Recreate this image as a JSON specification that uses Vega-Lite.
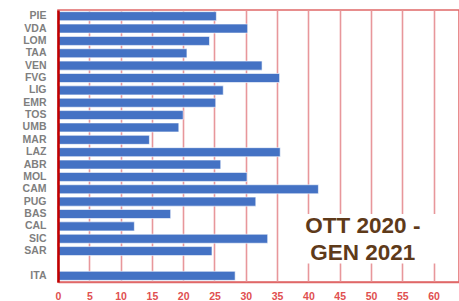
{
  "$schema": "https://vega.github.io/schema/vega-lite/v6.json",
  "width": 401,
  "height": 272,
  "autosize": {"type": "none"},
  "padding": {"left": 58, "top": 10, "right": 0, "bottom": 19},
  "config": {
    "view": {"stroke": "#E06868", "strokeWidth": 1.5},
    "font": "Liberation Sans",
    "axisY": {
      "title": null,
      "ticks": false,
      "grid": false,
      "domainColor": "#C00000",
      "domainWidth": 2.5,
      "labelPadding": 12,
      "labelColor": "#7F7F7F",
      "labelFontWeight": "bold",
      "labelFontSize": 10.5
    },
    "axisX": {
      "title": null,
      "grid": true,
      "gridColor": "#E8979B",
      "gridWidth": 1.6,
      "ticks": false,
      "domainColor": "#E06868",
      "domainWidth": 1.5,
      "labelColor": "#E05050",
      "labelFontWeight": "bold",
      "labelFontSize": 10.5,
      "labelPadding": 9,
      "labelFlush": false,
      "labelOverlap": false
    }
  },
  "layer": [
    {
      "data": {
        "values": [
          {"region": "PIE", "value": 25.3},
          {"region": "VDA", "value": 30.3},
          {"region": "LOM", "value": 24.2},
          {"region": "TAA", "value": 20.6},
          {"region": "VEN", "value": 32.6},
          {"region": "FVG", "value": 35.4},
          {"region": "LIG", "value": 26.4},
          {"region": "EMR", "value": 25.2},
          {"region": "TOS", "value": 20.0},
          {"region": "UMB", "value": 19.3},
          {"region": "MAR", "value": 14.6},
          {"region": "LAZ", "value": 35.5},
          {"region": "ABR", "value": 26.0},
          {"region": "MOL", "value": 30.2},
          {"region": "CAM", "value": 41.6},
          {"region": "PUG", "value": 31.6},
          {"region": "BAS", "value": 18.0},
          {"region": "CAL", "value": 12.2},
          {"region": "SIC", "value": 33.5},
          {"region": "SAR", "value": 24.6},
          {"region": "ITA", "value": 28.3}
        ]
      },
      "mark": {"type": "bar", "color": "#4472C4", "stroke": "#FFFFFF", "strokeWidth": 0.6},
      "encoding": {
        "y": {
          "field": "region",
          "type": "nominal",
          "scale": {
            "domain": ["PIE", "VDA", "LOM", "TAA", "VEN", "FVG", "LIG", "EMR", "TOS", "UMB", "MAR", "LAZ", "ABR", "MOL", "CAM", "PUG", "BAS", "CAL", "SIC", "SAR", " ", "ITA"],
            "paddingInner": 0.27,
            "paddingOuter": 0.135
          },
          "axis": {"title": null, "zindex": 1, "domainColor": "#C00000", "domainWidth": 2.5}
        },
        "x": {
          "field": "value",
          "type": "quantitative",
          "scale": {"domain": [0, 64.06], "nice": false},
          "axis": {"title": null, "values": [0, 5, 10, 15, 20, 25, 30, 35, 40, 45, 50, 55, 60, 65]}
        }
      }
    },
    {
      "data": {"values": [{"note": "OTT 2020 -\nGEN 2021"}]},
      "mark": {"type": "rect", "color": "#FFFFFF"},
      "encoding": {
        "x": {"datum": 39, "axis": {"title": null, "values": [0, 5, 10, 15, 20, 25, 30, 35, 40, 45, 50, 55, 60, 65]}},
        "x2": {"datum": 61.8},
        "y": {"datum": "BAS", "axis": {"title": null, "zindex": 1, "domainColor": "#C00000", "domainWidth": 2.5}},
        "y2": {"datum": " "}
      }
    },
    {
      "data": {"values": [{"note": "OTT 2020 -\nGEN 2021"}]},
      "mark": {
        "type": "text",
        "font": "Liberation Sans",
        "fontWeight": "bold",
        "fontSize": 22.5,
        "color": "#5E3A1A",
        "lineBreak": "\n",
        "lineHeight": 27,
        "align": "center",
        "baseline": "middle"
      },
      "encoding": {
        "x": {"datum": 48.7, "axis": {"title": null, "values": [0, 5, 10, 15, 20, 25, 30, 35, 40, 45, 50, 55, 60, 65]}},
        "y": {"datum": "CAL", "axis": {"title": null, "zindex": 1, "domainColor": "#C00000", "domainWidth": 2.5}},
        "text": {"field": "note"}
      }
    }
  ]
}
